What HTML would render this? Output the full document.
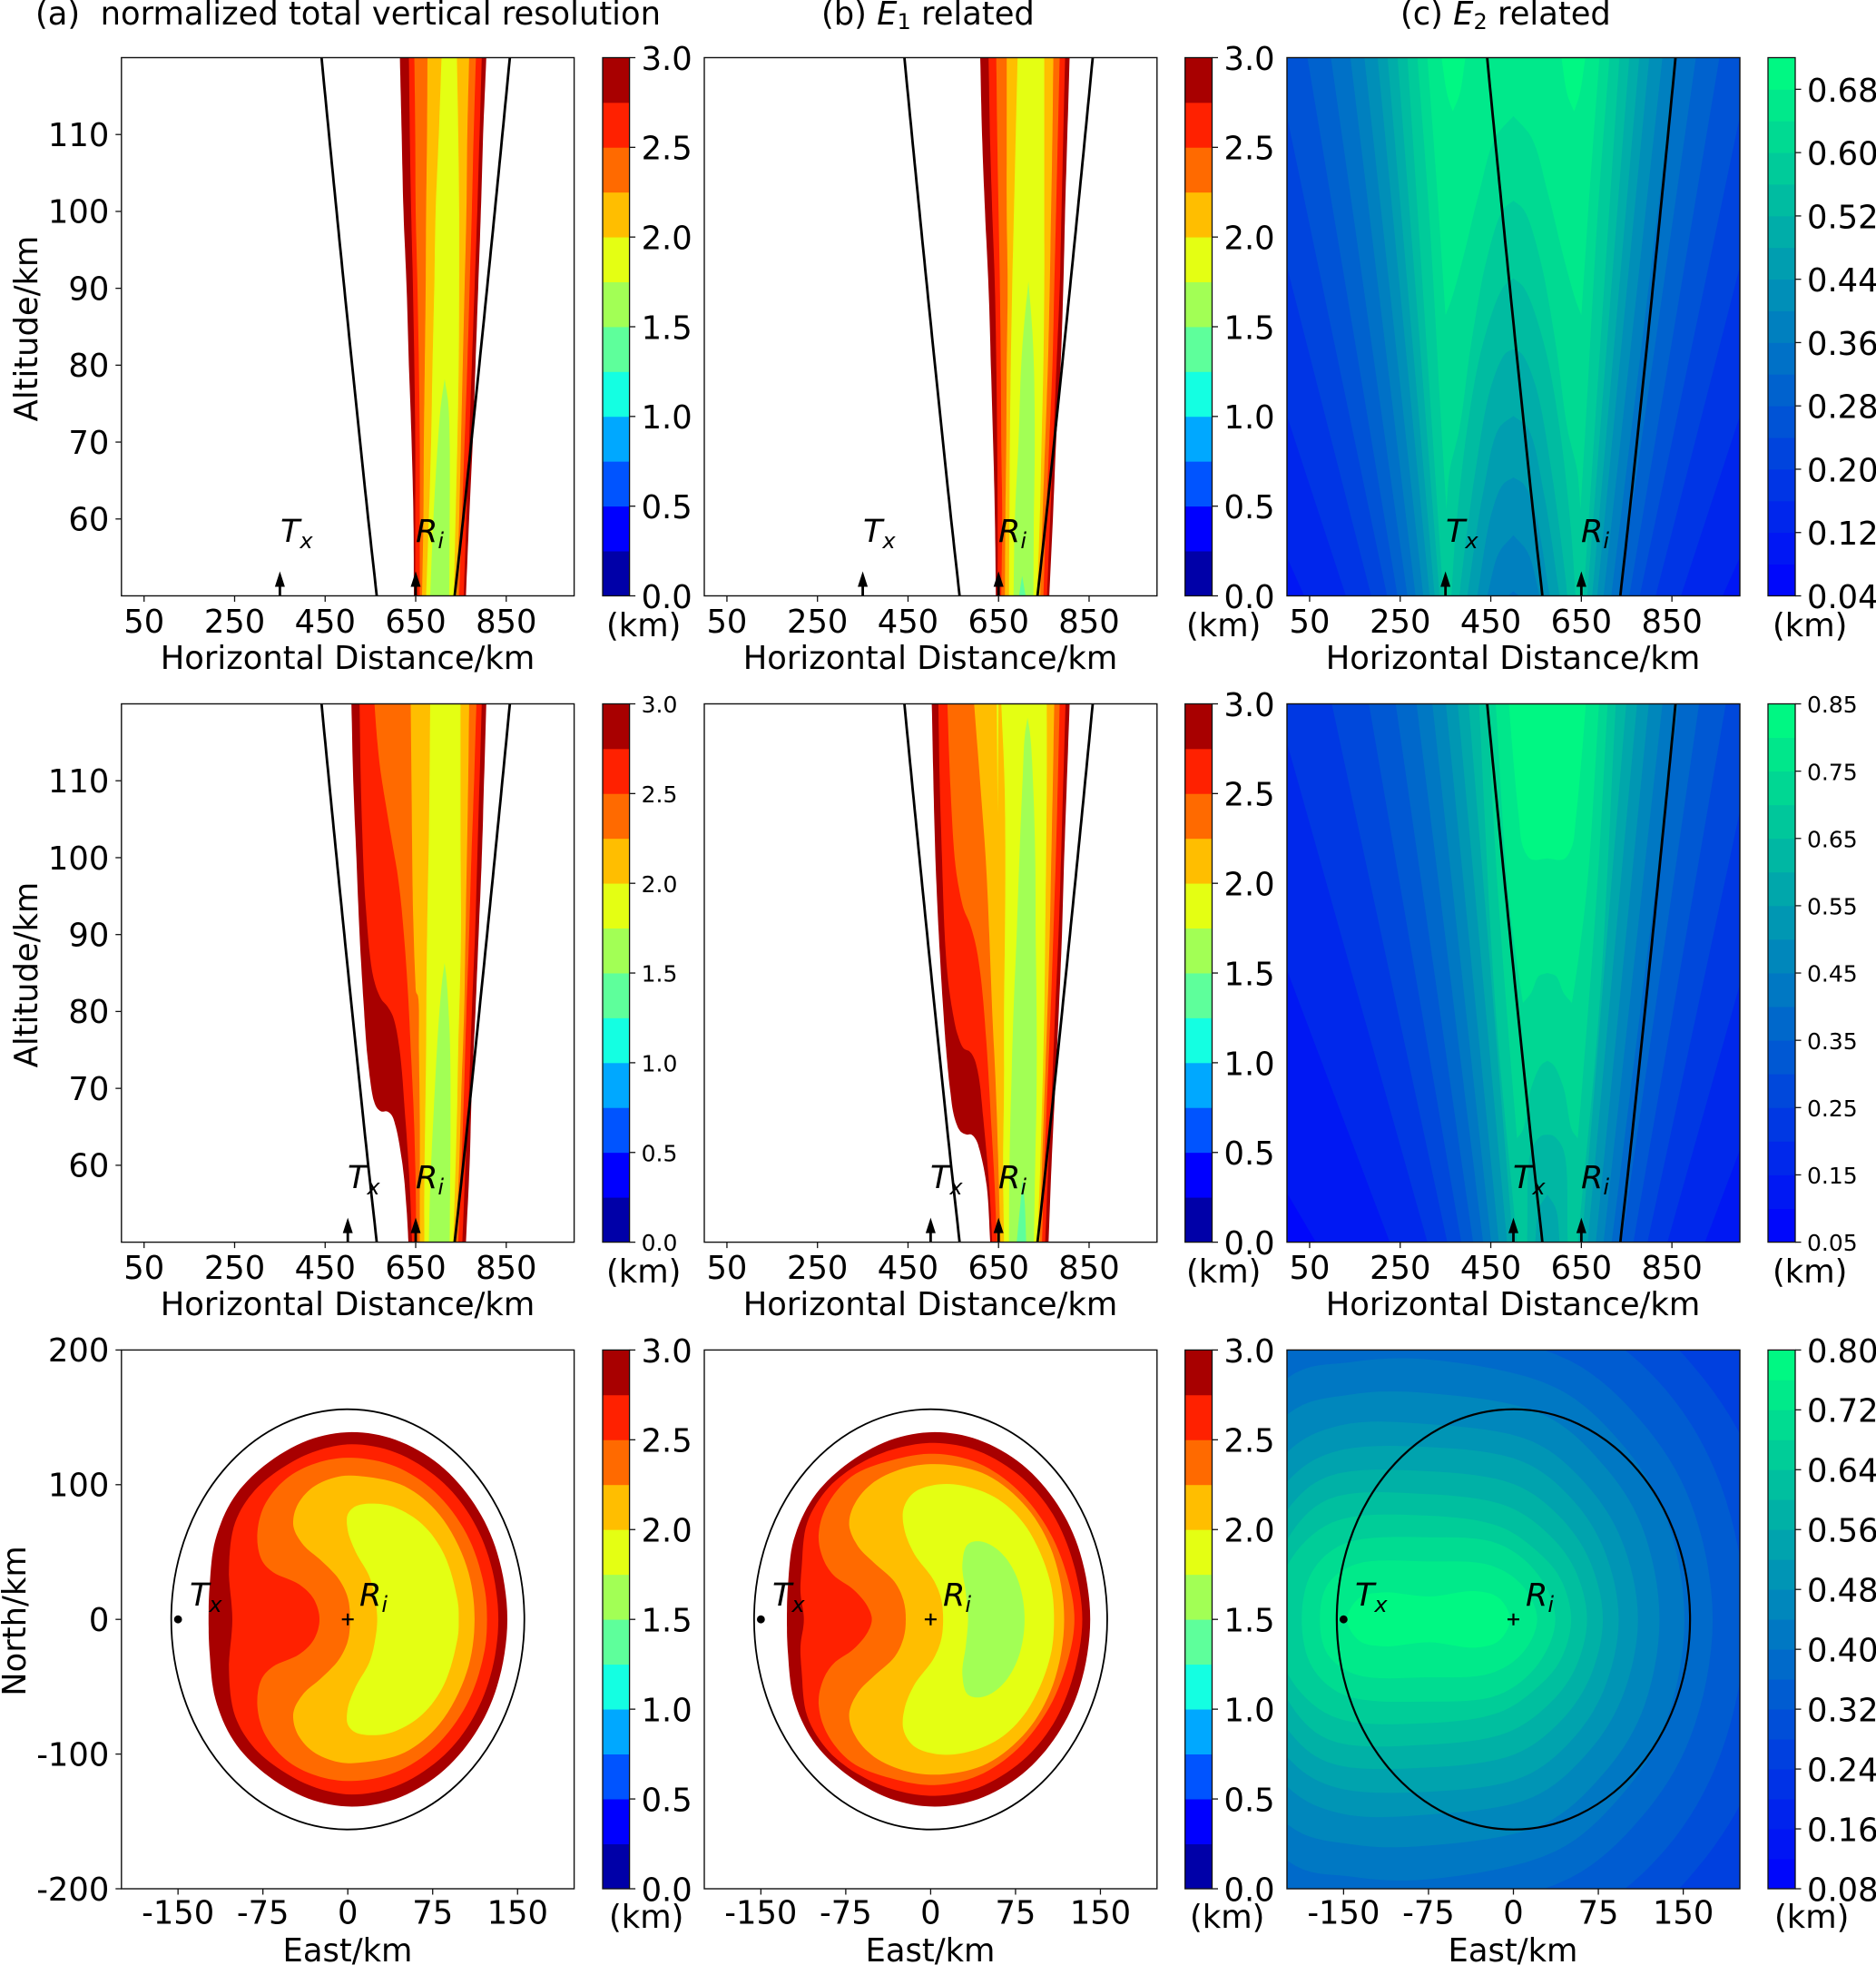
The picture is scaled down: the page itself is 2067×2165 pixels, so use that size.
<!DOCTYPE html>
<html lang="en">
<head>
<meta charset="utf-8">
<title>Normalized vertical resolution panels</title>
<style>
html,body{margin:0;padding:0;background:#fff}
svg{display:block}
text{font-family:"DejaVu Sans","Liberation Sans",sans-serif;fill:#000;white-space:pre}
.t{font-size:35.3px}
.i{font-size:35px;font-style:italic}
.s{font-size:24px;font-style:italic}
</style>
</head>
<body>
<svg id="figure" xmlns="http://www.w3.org/2000/svg" width="2067" height="2165" viewBox="0 0 2067 2165">
<g id="marks"></g>
<g>
<text class="t" x="39" y="27">(a)  normalized total vertical resolution</text>
<text class="t" x="905" y="27">(b) <tspan font-style="italic">E</tspan><tspan font-size="24" dy="5">1</tspan><tspan dy="-5"> related</tspan></text>
<text class="t" x="1543" y="27">(c) <tspan font-style="italic">E</tspan><tspan font-size="24" dy="5">2</tspan><tspan dy="-5"> related</tspan></text>
</g>
<g>
<text class="t" x="383" y="737" text-anchor="middle">Horizontal Distance/km</text>
<text class="t" x="1025" y="737" text-anchor="middle">Horizontal Distance/km</text>
<text class="t" x="1667" y="737" text-anchor="middle">Horizontal Distance/km</text>
<text class="t" x="383" y="1449" text-anchor="middle">Horizontal Distance/km</text>
<text class="t" x="1025" y="1449" text-anchor="middle">Horizontal Distance/km</text>
<text class="t" x="1667" y="1449" text-anchor="middle">Horizontal Distance/km</text>
<text class="t" x="383" y="2161" text-anchor="middle">East/km</text>
<text class="t" x="1025" y="2161" text-anchor="middle">East/km</text>
<text class="t" x="1667" y="2161" text-anchor="middle">East/km</text>
<text class="t" transform="translate(41,362) rotate(-90)" text-anchor="middle">Altitude/km</text>
<text class="t" transform="translate(41,1074) rotate(-90)" text-anchor="middle">Altitude/km</text>
<text class="t" transform="translate(28,1786) rotate(-90)" text-anchor="middle">North/km</text>
</g>
<g>
<text class="t" x="668" y="701">(km)</text>
<text class="t" x="1307" y="701">(km)</text>
<text class="t" x="1953" y="701">(km)</text>
<text class="t" x="668" y="1413">(km)</text>
<text class="t" x="1307" y="1413">(km)</text>
<text class="t" x="1953" y="1413">(km)</text>
<text class="t" x="671" y="2124">(km)</text>
<text class="t" x="1311" y="2124">(km)</text>
<text class="t" x="1955" y="2124">(km)</text>
</g>
<g>
<text class="i" x="309" y="597">T<tspan class="s" dy="7">x</tspan></text>
<text class="i" x="458" y="597">R<tspan class="s" dy="7">i</tspan></text>
<text class="i" x="951" y="597">T<tspan class="s" dy="7">x</tspan></text>
<text class="i" x="1100" y="597">R<tspan class="s" dy="7">i</tspan></text>
<text class="i" x="1593" y="597">T<tspan class="s" dy="7">x</tspan></text>
<text class="i" x="1742" y="597">R<tspan class="s" dy="7">i</tspan></text>
<text class="i" x="383" y="1309">T<tspan class="s" dy="7">x</tspan></text>
<text class="i" x="458" y="1309">R<tspan class="s" dy="7">i</tspan></text>
<text class="i" x="1025" y="1309">T<tspan class="s" dy="7">x</tspan></text>
<text class="i" x="1100" y="1309">R<tspan class="s" dy="7">i</tspan></text>
<text class="i" x="1667" y="1309">T<tspan class="s" dy="7">x</tspan></text>
<text class="i" x="1742" y="1309">R<tspan class="s" dy="7">i</tspan></text>
<text class="i" x="209" y="1769">T<tspan class="s" dy="7">x</tspan></text>
<text class="i" x="396" y="1769">R<tspan class="s" dy="7">i</tspan></text>
<text class="i" x="851" y="1769">T<tspan class="s" dy="7">x</tspan></text>
<text class="i" x="1039" y="1769">R<tspan class="s" dy="7">i</tspan></text>
<text class="i" x="1493" y="1769">T<tspan class="s" dy="7">x</tspan></text>
<text class="i" x="1681" y="1769">R<tspan class="s" dy="7">i</tspan></text>
</g>
</svg>
<script>
/* ---------- shared axis values ---------- */
const altSamples=[120,110,100,90,80,70,60,50];
const distanceTicks=[50,250,450,650,850];
const altitudeTicks=[60,70,80,90,100,110];
const eastTicks=[-150,-75,0,75,150];
const northTicks=[-200,-100,0,100,200];
const jetLevels=[0,.25,.5,.75,1,1.25,1.5,1.75,2,2.25,2.5,2.75,3];
const jetColors=['#0000a8','#0000ff','#0054ff','#00a8ff','#14ffe2','#5eff9b','#a2ff55','#e4ff13','#ffbe00','#ff6a00','#ff2100','#a80000'];
const jetTicks=[0,.5,1,1.5,2,2.5,3];
const c1BarLevels=[.04,.08,.12,.16,.20,.24,.28,.32,.36,.40,.44,.48,.52,.56,.60,.64,.68,.72];
const c1BarTicks=[.04,.12,.20,.28,.36,.44,.52,.60,.68];
const c2BarLevels=[.05,.10,.15,.20,.25,.30,.35,.40,.45,.50,.55,.60,.65,.70,.75,.80,.85];
const c2BarTicks=[.05,.15,.25,.35,.45,.55,.65,.75,.85];
const c3BarLevels=[.08,.12,.16,.20,.24,.28,.32,.36,.40,.44,.48,.52,.56,.60,.64,.68,.72,.76,.80];
const c3BarTicks=[.08,.16,.24,.32,.40,.48,.56,.64,.72,.80];

/* ---------- field-of-view curve (km at altSamples) ---------- */
const fovLeft=[442,458.5,475.3,492.3,509.6,527.2,545.2,564];
const fovRight=[858,841.5,824.7,807.7,790.4,772.8,754.8,736];
const fovRadius=156;
const transmitterDistanceRow1=350;
const transmitterDistanceRow2=500;
const receiverDistance=650;
const transmitterEast=-150;
const receiverEast=0;

/* ---------- row 1, column a: band edges in km at altSamples ---------- */
const a1DarkLeft=[615,619,623,630,635,641,645,646];
const a1DarkRight=[806,799,794,788,782,776,768,761];
const a1RedLeft=[635,637,640,644,647,649,649,649];
const a1RedRight=[796,791,786,780,774,768,762,756];
const a1OrangeLeft=[647,649,650,654,657,659,659,659];
const a1OrangeRight=[783,778,774,769,764,758,752,746];
const a1AmberLeft=[676,675,673,672,670,668,667,664];
const a1AmberRight=[768,764,762,758,754,750,746,741];
const a1YellowLeft=[707,701,694,691,687,684,679,673];
const a1YellowRight=[741,744,746,746,745,742,738,734];
const a1LimeLeft=[[714,78.2],[706,75],[699,70],[689,60],[682,50]];
const a1LimeRight=[[714,78.2],[722,75],[725,70],[725,60],[724,50]];

/* ---------- row 1, column b ---------- */
const b1DarkLeft=[609.5,613.5,620,628,633,638,642,644];
const b1DarkRight=[807,802,797,793,787,777,770,762];
const b1RedLeft=[628,631,636,642,645,647,648,648];
const b1RedRight=[797,793,789,785,778,771,764,757];
const b1OrangeLeft=[645,647,650,653,655,656,658,656];
const b1OrangeRight=[785,781,777,773,769,762,755,749];
const b1AmberLeft=[668,668,668,670,668,667,665,664];
const b1AmberRight=[771,769,766,763,759,753,747,742];
const b1YellowLeft=[692,688,684,680,677,675,674,673];
const b1YellowRight=[751,751,751,751,749,745,741,735];
const b1LimeLeft=[[716,90.9],[706,85],[700,80],[694,70],[686,60],[683,50]];
const b1LimeRight=[[716,90.9],[724,85],[728,80],[730,70],[728,60],[727,50]];
const b1GreenLeft=[[702,52.6],[695,50]];
const b1GreenRight=[[702,52.6],[710,50]];

/* ---------- row 2, column a: [km, altitude] ---------- */
const a2DarkLeft=[[508,120],[512,110],[519,100],[526,90],[536,80],[542,75],[552,70],[557,68.5],[564,67.5],[574,67],[587,67],[597,66.5],[606,65],[621,60],[629,55],[634,50]];
const a2DarkRight=[[806,120],[801,110],[796,100],[789,90],[782,80],[774,70],[769,60],[761,50]];
const a2RedLeft=[[526,120],[530,106.9],[540,93.3],[557,84.3],[574,81.6],[587,80.7],[600,79.3],[614,75.2],[627,66.2],[637,57.2],[642,50]];
const a2RedRight=[[796,120],[791,110],[786,100],[781,90],[774,80],[768,70],[760,60],[753,50]];
const a2OrangeLeft=[[559,120],[564,115.9],[572,111.4],[584,106.9],[597,102.3],[610,97.8],[619,93.3],[631,84.3],[639,75.2],[646,66.2],[650,57.2],[651,50]];
const a2OrangeRight=[[784,120],[779,110],[773,100],[768,90],[762,80],[757,70],[751,60],[744,50]];
const a2AmberLeft=[[639,120],[642,102.3],[644,93.3],[649,84.3],[651,82.5],[655,82],[657,75.2],[659,66.2],[659,57.2],[659,50]];
const a2AmberRight=[[768,120],[766,110],[763,100],[760,90],[757,80],[751,70],[746,60],[739,50]];
const a2YellowLeft=[[682,120],[679,102.3],[676,93.3],[674,84.3],[673,75.2],[671,66.2],[669,57.2],[669,50]];
const a2YellowRight=[[749,120],[749,102.3],[750,90],[744,75.2],[741,66.2],[733,50]];
const a2LimeLeft=[[714,86.3],[709,84.3],[702,79.7],[697,75.2],[689,66.2],[682,57.2],[679,50]];
const a2LimeRight=[[714,86.3],[718,84.3],[723,79.7],[726,75.2],[727,66.2],[725,50]];

/* ---------- row 2, column b ---------- */
const b2DarkLeft=[[502.5,120],[506,110],[510.5,100],[518,90],[528,80],[534,75.2],[542.6,70],[552.6,66.2],[566,64.4],[579.4,64],[589.4,64],[599.4,63.4],[609.4,61.7],[624,57.2],[631.5,50]];
const b2DarkRight=[[807,120],[801,110],[795,100],[790,90],[783,80],[775,70],[767,60],[760.5,50]];
const b2RedLeft=[[517,120],[520,110],[525,100],[531,90],[538,84.3],[549,79.8],[559,77.1],[573,75.2],[586,74.8],[596,73.9],[606,71.6],[616,66.2],[629.5,57.2],[636,50]];
const b2RedRight=[[798,120],[793,110],[788,100],[782.5,90],[775,80],[768,70],[760,60],[753,50]];
const b2OrangeLeft=[[537,120],[543,110],[553,100],[561,96.5],[573,93.3],[586,91.5],[599,88.8],[611,84.3],[624,75.2],[633,66.2],[641.5,57.2],[646,50]];
const b2OrangeRight=[[785,120],[781,110],[776.5,100],[771,90],[765,80],[758,70],[751,60],[746,50]];
const b2AmberLeft=[[596,120],[609,110],[621.5,100],[629.5,90],[636,80],[644,70],[649.5,60],[654,50]];
const b2AmberRight=[[773,120],[770,110],[766.5,100],[763,90],[758,80],[752,70],[746,60],[741,50]];
const b2YellowLeft=[[656,120],[663,110],[665,100],[664,90],[662,80],[662,70],[660,60],[662,50]];
const b2YellowRight=[[756.5,120],[756.5,110],[755,100],[753,90],[751,80],[747,70],[742,60],[736,50]];
const b2WedgeLeft=[[648,105.6],[646,120]];
const b2WedgeRight=[[648,105.6],[650,120]];
const b2LimeLeft=[[714,118.2],[708,115.9],[703,110],[696,100],[690,90],[683,80],[678,70],[674,60],[673,50]];
const b2LimeRight=[[714,118.2],[720,115.9],[726,110],[731,100],[732,90],[734,80],[734,70],[731,60],[728,50]];
const b2GreenLeft=[[703,58.1],[698,54.9],[690,50]];
const b2GreenRight=[[703,58.1],[708,54.9],[711,50]];

/* ---------- row 3: upper half contour points [east, north], mirrored about north = 0 ---------- */
const a3Dark=[[-123,0],[-122,26],[-117,59],[-101,90],[-74,114],[-35,133],[3.5,139],[42,133.4],[81,114.8],[112,85.4],[132,49.4],[141,0]];
const a3Red=[[-102,0],[-105,38],[-99.5,72],[-82,96],[-55,114],[-28,125],[3.5,130],[42,124],[81,104],[108,77],[126,42],[133,0]];
const a3Orange=[[-25,0],[-30,15],[-43,26],[-66,35],[-76,44],[-80,62],[-74,84],[-55,104],[-28,116],[3.5,120],[42,113.6],[77,94.6],[105,63.4],[120,26.7],[123,0]];
const a3Amber=[[2,0],[0,16],[-8,30],[-24,44],[-39,55],[-48,69],[-45,84],[-31,98],[-8,106],[15,106],[50,98.9],[81,77.7],[105,39.5],[112,0]];
const a3Yellow=[[26,0],[24,16],[19,32],[7,50],[0,66],[0,78],[7,84],[23,86],[42,83],[66,70.5],[85,48.4],[97,14],[98,0]];

const b3Dark=[[-127,0],[-126,26],[-121,59],[-104,90],[-76,114],[-36,133],[3.5,139],[42,133.4],[81,114.8],[112,85.4],[132,49.4],[141,0]];
const b3Red=[[-112,0],[-115,20],[-114,38],[-109,72],[-90,98],[-62,116],[-30,127],[3.5,131],[42,125],[81,105],[108,78],[126,42],[134,0]];
const b3Orange=[[-52,0],[-56,10],[-68,22],[-86,33],[-95,45],[-99,62],[-92,84],[-70,106],[-35,118],[3.5,123],[42,116],[77,96],[105,65],[122,28],[127,0]];
const b3Amber=[[-22,0],[-24,14],[-32,28],[-50,42],[-64,54],[-72,70],[-67,86],[-50,102],[-20,113],[12,115],[50,107],[85,83],[108,48.7],[118,0]];
const b3Yellow=[[11,0],[9,16],[2,30],[-14,48],[-23,66],[-24,82],[-15,94],[5,100],[30,99],[60,89],[85,68],[105,30],[109,0]];
const b3Lime=[[33,0],[31,20],[28,40],[32,55],[40,58],[52,55.7],[66,46],[78,27],[83,0]];

/* ---------- column c, row 1: left half, mirrored about c1Mirror ---------- */
const c1Mirror=500;
const c1BaseLevel=.08;
const c1Levels=[.12,.16,.20,.24,.28,.32,.36,.40,.44,.48,.52,.56,.60,.64,.68];
const c1Outer=[
 [[-494,120],[38,50]],[[-259,120],[130,50]],[[-118,120],[186,50]],[[-27,120],[221,50]],
 [[45,120],[244,50]],[[97,120],[266,50]],[[140,120],[284,50]],[[171,120],[301,50]],
 [[200,120],[315,50]],[[222,120],[326,50]],[[244,120],[337,50]],[[266,120],[345,50]],
 [[288,120],[314,99.6],[341,71.8],[352,61.2]],
 [[310,120],[332,102.4],[350,86.5]],
 [[341,120],[354,115.2],[366,113]]];
const c1Tongue=[
 [],[],[],[],[],[],
 [[488,50],[500,50.6]],
 [[442,50],[468,55.6],[500,57.9]],
 [[420,50],[451,60.6],[477,64.5],[500,65.4]],
 [[398,50],[433,63.4],[468,71.8],[500,73.4]],
 [[381,50],[385,52.3],[416,66.2],[451,77.3],[482,81.5],[500,82.1]],
 [[363,50],[372,57.9],[398,71.8],[433,82.9],[477,90.1],[500,91.3]],
 [[352,61.2],[359,66.2],[381,71.8],[407,82.9],[442,94],[477,100.2],[500,101.4]],
 [[350,86.5],[363,88.5],[389,94],[424,102.4],[460,109.6],[500,112.4]],
 [[366,113],[381,115.2],[394,120]]];

/* ---------- column c, row 2: left half, mirrored about c2Mirror ---------- */
const c2Mirror=575;
const c2BaseLevel=.05;
const c2Levels=[.10,.15,.20,.25,.30,.35,.40,.45,.50,.55,.60,.65,.70,.75,.80];
const c2Outer=[
 [[-636,120],[64,50]],[[-222,120],[227,50]],[[-24,120],[310,50]],[[99,120],[354,50]],
 [[181,120],[385,50]],[[240,120],[411,50]],[[286,120],[433,50]],[[321,120],[451,50]],
 [[351,120],[468,50]],[[377,120],[486,50]],[[401,120],[499,50]],
 [[424,120],[460,80.8],[508,50]],
 [[442,120],[464,97.1],[495,72.7],[508,63.5]],
 [[461,120],[486,97.1],[508,86.2],[521,81.1]],
 [[490,120],[499,113.3],[512,105.2],[521,101.4],[539,99.8],[575,99.9]]];
const c2Tongue=[
 [],[],[],[],[],[],[],[],[],[],
 [[548,50],[556,54.3],[575,56.2]],
 [[530,50],[539,61.9],[561,63.8],[575,64]],
 [[508,63.5],[521,64.6],[539,70],[561,73],[575,73.6]],
 [[521,81.1],[539,82.4],[556,84.6],[575,85]],
 []];

/* ---------- column c, row 3: upper half closed contours [east, north] ---------- */
const c3BaseLevel=.24;
const c3Levels=[.28,.32,.36,.40,.44,.48,.52,.56,.60,.64,.68,.72,.76];
const c3Contours=[
 [[-406,0],[-200,272],[-76,281],[82,243],[161,186],[215,110],[240,0]],
 [[-371,0],[-200,235],[-76,247],[64.5,218],[135,170],[183,100],[205,0]],
 [[-350,0],[-200,207],[-143,216],[-76,218],[50,192],[113,147],[156,88],[176,0]],
 [[-329,0],[-200,179],[-143,191],[-76,193],[37.5,172],[94,132],[133,80],[151,0]],
 [[-308,0],[-200,152],[-143,167],[-76,168],[26.5,152],[78,116],[113,70],[129,0]],
 [[-287,0],[-200,124],[-153,144],[-76,145],[17,132],[63.5,101],[95,60],[110,0]],
 [[-266,0],[-200,102],[-160,124],[-76,128],[8.5,117],[51,90],[79.5,53],[93,0]],
 [[-245,0],[-200,81],[-164,106],[-76,110],[1.5,100],[40,77],[66.6,45],[79,0]],
 [[-223,0],[-200,59],[-164,89],[-76,93],[-5.5,84],[30,64],[53.7,38],[65,0]],
 [[-209,0],[-199,41],[-160,72],[-76,77],[-12.5,69],[19,52],[41,31],[51,0]],
 [[-187,0],[-178,35],[-150,56],[-76,61],[-13,56],[22,33],[37,0]],
 [[-171,0],[-164,26],[-139,41],[-76,43],[-20,40],[8,25],[21,0]],
 [[-147,0],[-136,16],[-115,20],[-74,17],[-34,21],[-13,16],[-3,0]]];

/* ---------- layout ---------- */
const NS='http://www.w3.org/2000/svg';
const COLS=[{l:133.8,r:632.6,cl:664,cr:693.6},{l:776,r:1274.8,cl:1305.7,cr:1335.5},{l:1418,r:1917,cl:1948,cr:1978}];
const ROWS=[{t:63.5,b:656.5},{t:775.5,b:1368.6},{t:1487.4,b:2081}];
const root=document.getElementById('marks');

function node(tag,parent,name,attrs){
  const el=document.createElementNS(NS,tag);
  
  
  for(const k in attrs)el.setAttribute(k,attrs[k]);
  parent.appendChild(el);
  return el;
}
function dist(a,b){return Math.pow(Math.hypot(a[0]-b[0],a[1]-b[1]),.5)||1e-3;}
function segment(p0,p1,p2,p3,out){
  const t1=dist(p0,p1),t2=t1+dist(p1,p2),t3=t2+dist(p2,p3);
  const n=8;
  for(let s=0;s<n;s++){
    const t=t1+(t2-t1)*s/n;
    const L=(a,b,ta,tb,i)=>a[i]+(b[i]-a[i])*(t-ta)/(tb-ta);
    const pt=[0,1].map(i=>{
      const a1=L(p0,p1,0,t1,i),a2=L(p1,p2,t1,t2,i),a3=L(p2,p3,t2,t3,i);
      const b1=a1+(a2-a1)*(t-0)/(t2-0),b2=a2+(a3-a2)*(t-t1)/(t3-t1);
      return b1+(b2-b1)*(t-t1)/(t2-t1);
    });
    out.push(pt);
  }
}
function smoothOpen(p){
  if(p.length<3)return p.slice();
  const out=[];
  for(let i=0;i<p.length-1;i++){
    const a=p[i-1]||[2*p[0][0]-p[1][0],2*p[0][1]-p[1][1]];
    const n=p.length;
    const d=p[i+2]||[2*p[n-1][0]-p[n-2][0],2*p[n-1][1]-p[n-2][1]];
    segment(a,p[i],p[i+1],d,out);
  }
  out.push(p[p.length-1]);
  return out;
}
function smoothClosed(p){
  const out=[],n=p.length;
  for(let i=0;i<n;i++)segment(p[(i-1+n)%n],p[i],p[(i+1)%n],p[(i+2)%n],out);
  return out;
}
function pathOf(pts){
  return 'M'+pts.map(q=>q[0].toFixed(1)+' '+q[1].toFixed(1)).join('L')+'Z';
}
function withAlt(kms){return kms.map((k,i)=>[k,altSamples[i]]);}
function jetColor(level){return jetColors[Math.round(level/.25)];}
function winterColor(i,n){
  const t=(i+.5)/n;
  return 'rgb(0,'+Math.round(255*t)+','+Math.round(255-127.5*t)+')';
}

function makePanel(col,row,xMin,xMax,yMin,yMax,id){
  const c=COLS[col],r=ROWS[row];
  const g=node('g',root,'panel-'+id,{});
  const clipId='clip-'+id;
  const defs=node('clipPath',g,'clip-'+id,{id:clipId});
  node('rect',defs,'clip-rect-'+id,{x:c.l,y:r.t,width:c.r-c.l,height:r.b-r.t});
  const plot=node('g',g,'plot-area-'+id,{'clip-path':'url(#'+clipId+')'});
  return {g,plot,id,c,r,
    sx:v=>c.l+(v-xMin)/(xMax-xMin)*(c.r-c.l),
    sy:v=>r.b-(v-yMin)/(yMax-yMin)*(r.b-r.t)};
}
function px(p,list){return list.map(q=>[p.sx(q[0]),p.sy(q[1])]);}
function band(p,level,left,right){
  const l=smoothOpen(px(p,left));
  const rr=smoothOpen(px(p,right)).reverse();
  node('path',p.plot,'contour-band-'+level+'-'+p.id,{d:pathOf(l.concat(rr)),fill:jetColor(level)});
}
function closedHalf(half){
  const lower=half.slice(1,-1).reverse().map(q=>[q[0],-q[1]]);
  return half.concat(lower);
}
function closedBand(p,half,color,name){
  node('path',p.plot,name+'-'+p.id,{d:pathOf(smoothClosed(px(p,closedHalf(half)))),fill:color});
}
function mirroredField(p,outer,tongue,mirror,levels,base,first,step,n){
  node('rect',p.plot,'field-base-'+p.id,{x:p.c.l,y:p.r.t,width:p.c.r-p.c.l,height:p.r.b-p.r.t,fill:winterColor(Math.round((base-first)/step),n)});
  levels.forEach((lv,i)=>{
    const a=smoothOpen(px(p,outer[i]));
    const b=tongue[i].length?smoothOpen(px(p,tongue[i])):[];
    const half=a.concat(b);
    const cx=p.sx(mirror);
    const other=half.slice().reverse().map(q=>[2*cx-q[0],q[1]]);
    node('path',p.plot,'field-level-'+lv.toFixed(2)+'-'+p.id,{d:pathOf(half.concat(other)),fill:winterColor(Math.round((lv-first)/step),n)});
  });
}
function fovLines(p){
  const a=smoothOpen(px(p,withAlt(fovLeft)));
  const b=smoothOpen(px(p,withAlt(fovRight)));
  const d=pts=>'M'+pts.map(q=>q[0].toFixed(1)+' '+q[1].toFixed(1)).join('L');
  node('path',p.plot,'fov-left-line-'+p.id,{d:d(a),fill:'none',stroke:'#000','stroke-width':2.8});
  node('path',p.plot,'fov-right-line-'+p.id,{d:d(b),fill:'none',stroke:'#000','stroke-width':2.8});
}
function arrow(p,km,name){
  const x=p.sx(km),y=p.r.b;
  node('path',p.plot,name+'-'+p.id,{d:'M'+(x-1.4)+' '+y+'V'+(y-10)+'H'+(x-5.5)+'L'+x+' '+(y-27)+'L'+(x+5.5)+' '+(y-10)+'H'+(x+1.4)+'V'+y+'Z',fill:'#000'});
}
function circleMarks(p,strokeW){
  const rx=Math.abs(p.sx(fovRadius)-p.sx(0)),ry=Math.abs(p.sy(fovRadius)-p.sy(0));
  node('ellipse',p.plot,'fov-circle-'+p.id,{cx:p.sx(receiverEast),cy:p.sy(0),rx:rx,ry:ry,fill:'none',stroke:'#000','stroke-width':strokeW});
  node('circle',p.plot,'transmitter-dot-'+p.id,{cx:p.sx(transmitterEast),cy:p.sy(0),r:4.4,fill:'#000'});
  const x=p.sx(receiverEast),y=p.sy(0);
  node('path',p.plot,'receiver-plus-'+p.id,{d:'M'+(x-6.5)+' '+y+'H'+(x+6.5)+'M'+x+' '+(y-6.5)+'V'+(y+6.5),stroke:'#000','stroke-width':2.2,fill:'none'});
}
function axes(p,xt,yt,showY){
  const {c,r,g}=p;
  node('rect',g,'axes-frame-'+p.id,{x:c.l,y:r.t,width:c.r-c.l,height:r.b-r.t,fill:'none',stroke:'#111','stroke-width':1.4});
  const xg=node('g',g,'x-axis-'+p.id,{});
  xt.forEach(v=>{
    const x=p.sx(v);
    node('line',xg,'x-tick-'+v+'-'+p.id,{x1:x,x2:x,y1:r.b,y2:r.b+6.5,stroke:'#111','stroke-width':1.3});
    const t=node('text',xg,'x-tick-label-'+v+'-'+p.id,{x:x,y:r.b+(r.b>2000?38.5:40.5),'text-anchor':'middle',class:'t'});
    t.textContent=String(v);
  });
  if(!showY)return;
  const yg=node('g',g,'y-axis-'+p.id,{});
  yt.forEach(v=>{
    const y=p.sy(v);
    node('line',yg,'y-tick-'+v+'-'+p.id,{x1:c.l-6.5,x2:c.l,y1:y,y2:y,stroke:'#111','stroke-width':1.3});
    const t=node('text',yg,'y-tick-label-'+v+'-'+p.id,{x:c.l-13.5,y:y+12.8,'text-anchor':'end',class:'t'});
    t.textContent=String(v);
  });
}
function colorbar(col,row,levels,colorAt,ticks,digits,fs){
  const c=COLS[col],r=ROWS[row];
  const id=['a','b','c'][col]+(row+1);
  const g=node('g',root,'colorbar-'+id,{});
  const lo=levels[0],hi=levels[levels.length-1];
  const cy=v=>r.b-(v-lo)/(hi-lo)*(r.b-r.t);
  for(let i=0;i<levels.length-1;i++){
    node('rect',g,'colorbar-band-'+i+'-'+id,{x:c.cl,y:cy(levels[i+1]),width:c.cr-c.cl,height:cy(levels[i])-cy(levels[i+1])+.4,fill:colorAt(i,levels.length-1)});
  }
  node('rect',g,'colorbar-frame-'+id,{x:c.cl,y:r.t,width:c.cr-c.cl,height:r.b-r.t,fill:'none',stroke:'#111','stroke-width':1.3});
  ticks.forEach(v=>{
    const y=cy(v);
    node('line',g,'colorbar-tick-'+v+'-'+id,{x1:c.cr,x2:c.cr+6.5,y1:y,y2:y,stroke:'#111','stroke-width':1.3});
    const t=node('text',g,'colorbar-tick-label-'+v+'-'+id,{x:c.cr+13,y:y+fs*.365+.5,'font-size':fs});
    t.textContent=v.toFixed(digits);
  });
}
const jetAt=i=>jetColors[i];

/* ---------- row 1 ---------- */
const pA1=makePanel(0,0,0,1000,50,120,'a1');
band(pA1,2.75,withAlt(a1DarkLeft),withAlt(a1DarkRight));
band(pA1,2.5,withAlt(a1RedLeft),withAlt(a1RedRight));
band(pA1,2.25,withAlt(a1OrangeLeft),withAlt(a1OrangeRight));
band(pA1,2,withAlt(a1AmberLeft),withAlt(a1AmberRight));
band(pA1,1.75,withAlt(a1YellowLeft),withAlt(a1YellowRight));
band(pA1,1.5,a1LimeLeft,a1LimeRight);
fovLines(pA1);arrow(pA1,transmitterDistanceRow1,'tx-arrow');arrow(pA1,receiverDistance,'ri-arrow');
axes(pA1,distanceTicks,altitudeTicks,true);

const pB1=makePanel(1,0,0,1000,50,120,'b1');
band(pB1,2.75,withAlt(b1DarkLeft),withAlt(b1DarkRight));
band(pB1,2.5,withAlt(b1RedLeft),withAlt(b1RedRight));
band(pB1,2.25,withAlt(b1OrangeLeft),withAlt(b1OrangeRight));
band(pB1,2,withAlt(b1AmberLeft),withAlt(b1AmberRight));
band(pB1,1.75,withAlt(b1YellowLeft),withAlt(b1YellowRight));
band(pB1,1.5,b1LimeLeft,b1LimeRight);
band(pB1,1.25,b1GreenLeft,b1GreenRight);
fovLines(pB1);arrow(pB1,transmitterDistanceRow1,'tx-arrow');arrow(pB1,receiverDistance,'ri-arrow');
axes(pB1,distanceTicks,altitudeTicks,false);

const pC1=makePanel(2,0,0,1000,50,120,'c1');
mirroredField(pC1,c1Outer,c1Tongue,c1Mirror,c1Levels,c1BaseLevel,.04,.04,17);
fovLines(pC1);arrow(pC1,transmitterDistanceRow1,'tx-arrow');arrow(pC1,receiverDistance,'ri-arrow');
axes(pC1,distanceTicks,altitudeTicks,false);

/* ---------- row 2 ---------- */
const pA2=makePanel(0,1,0,1000,50,120,'a2');
band(pA2,2.75,a2DarkLeft,a2DarkRight);
band(pA2,2.5,a2RedLeft,a2RedRight);
band(pA2,2.25,a2OrangeLeft,a2OrangeRight);
band(pA2,2,a2AmberLeft,a2AmberRight);
band(pA2,1.75,a2YellowLeft,a2YellowRight);
band(pA2,1.5,a2LimeLeft,a2LimeRight);
fovLines(pA2);arrow(pA2,transmitterDistanceRow2,'tx-arrow');arrow(pA2,receiverDistance,'ri-arrow');
axes(pA2,distanceTicks,altitudeTicks,true);

const pB2=makePanel(1,1,0,1000,50,120,'b2');
band(pB2,2.75,b2DarkLeft,b2DarkRight);
band(pB2,2.5,b2RedLeft,b2RedRight);
band(pB2,2.25,b2OrangeLeft,b2OrangeRight);
band(pB2,2,b2AmberLeft,b2AmberRight);
band(pB2,1.75,b2YellowLeft,b2YellowRight);
band(pB2,1.75,b2WedgeLeft,b2WedgeRight);
band(pB2,1.5,b2LimeLeft,b2LimeRight);
band(pB2,1.25,b2GreenLeft,b2GreenRight);
fovLines(pB2);arrow(pB2,transmitterDistanceRow2,'tx-arrow');arrow(pB2,receiverDistance,'ri-arrow');
axes(pB2,distanceTicks,altitudeTicks,false);

const pC2=makePanel(2,1,0,1000,50,120,'c2');
mirroredField(pC2,c2Outer,c2Tongue,c2Mirror,c2Levels,c2BaseLevel,.05,.05,16);
fovLines(pC2);arrow(pC2,transmitterDistanceRow2,'tx-arrow');arrow(pC2,receiverDistance,'ri-arrow');
axes(pC2,distanceTicks,altitudeTicks,false);

/* ---------- row 3 ---------- */
const pA3=makePanel(0,2,-200,200,-200,200,'a3');
closedBand(pA3,a3Dark,jetColor(2.75),'contour-band-2.75');
closedBand(pA3,a3Red,jetColor(2.5),'contour-band-2.5');
closedBand(pA3,a3Orange,jetColor(2.25),'contour-band-2.25');
closedBand(pA3,a3Amber,jetColor(2),'contour-band-2');
closedBand(pA3,a3Yellow,jetColor(1.75),'contour-band-1.75');
circleMarks(pA3,1.8);
axes(pA3,eastTicks,northTicks,true);

const pB3=makePanel(1,2,-200,200,-200,200,'b3');
closedBand(pB3,b3Dark,jetColor(2.75),'contour-band-2.75');
closedBand(pB3,b3Red,jetColor(2.5),'contour-band-2.5');
closedBand(pB3,b3Orange,jetColor(2.25),'contour-band-2.25');
closedBand(pB3,b3Amber,jetColor(2),'contour-band-2');
closedBand(pB3,b3Yellow,jetColor(1.75),'contour-band-1.75');
closedBand(pB3,b3Lime,jetColor(1.5),'contour-band-1.5');
circleMarks(pB3,1.8);
axes(pB3,eastTicks,northTicks,false);

const pC3=makePanel(2,2,-200,200,-200,200,'c3');
node('rect',pC3.plot,'field-base-c3',{x:pC3.c.l,y:pC3.r.t,width:pC3.c.r-pC3.c.l,height:pC3.r.b-pC3.r.t,fill:winterColor(Math.round((c3BaseLevel-.08)/.04),18)});
c3Levels.forEach((lv,i)=>{
  closedBand(pC3,c3Contours[i],winterColor(Math.round((lv-.08)/.04),18),'field-level-'+lv.toFixed(2));
});
circleMarks(pC3,2.2);
axes(pC3,eastTicks,northTicks,false);

/* ---------- colorbars ---------- */
colorbar(0,0,jetLevels,jetAt,jetTicks,1,35.3);
colorbar(1,0,jetLevels,jetAt,jetTicks,1,35.3);
colorbar(2,0,c1BarLevels,winterColor,c1BarTicks,2,35.3);
colorbar(0,1,jetLevels,jetAt,jetTicks,1,25);
colorbar(1,1,jetLevels,jetAt,jetTicks,1,35.3);
colorbar(2,1,c2BarLevels,winterColor,c2BarTicks,2,25);
colorbar(0,2,jetLevels,jetAt,jetTicks,1,35.3);
colorbar(1,2,jetLevels,jetAt,jetTicks,1,35.3);
colorbar(2,2,c3BarLevels,winterColor,c3BarTicks,2,35.3);
</script>
</body>
</html>
